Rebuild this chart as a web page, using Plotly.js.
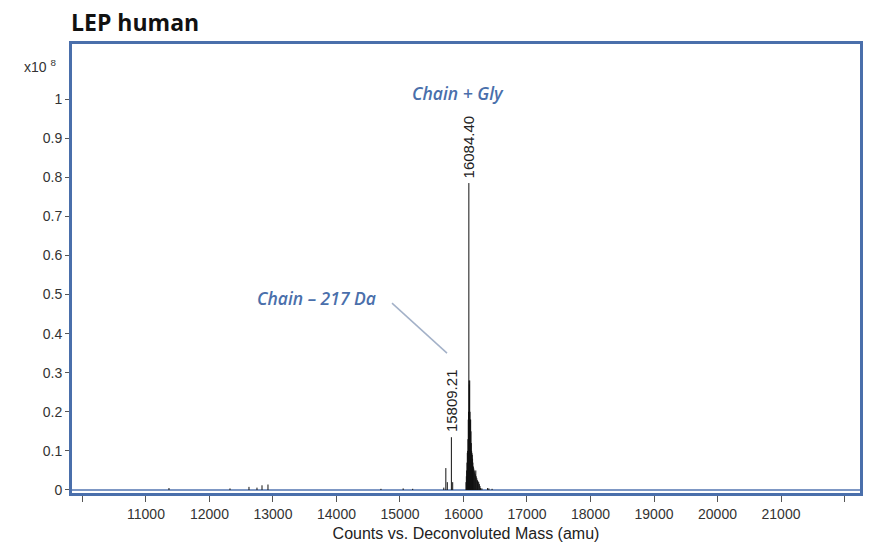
<!DOCTYPE html>
<html>
<head>
<meta charset="utf-8">
<script src="https://cdn.plot.ly/plotly-3.0.1.min.js"></script>
<style>
  html, body { margin: 0; padding: 0; background: #fff; }
  #chart { width: 877px; height: 550px; }
</style>
</head>
<body>
<div id="chart"></div>
<script>
// deconvoluted spectrum, intensity in units of 1e8 counts
const minorMass = [11362, 12323, 12622, 12748, 12827, 12921, 14700, 15050, 15200, 15690, 15722, 15745, 15809.21, 15830];
const minorInt = [0.005, 0.004, 0.008, 0.006, 0.012, 0.014, 0.003, 0.004, 0.003, 0.006, 0.056, 0.02, 0.135, 0.02];

const clusterMass = [16040, 16045, 16050, 16055, 16060, 16065, 16070, 16075, 16080, 16084.4, 16088, 16093,
  16098, 16103, 16108, 16113, 16118, 16123, 16128, 16133, 16138, 16143, 16148, 16155, 16162, 16170,
  16178, 16186, 16194, 16200, 16210, 16220, 16230, 16240, 16250, 16260, 16270, 16290, 16380, 16400, 16450];
const clusterInt = [0.02, 0.035, 0.05, 0.07, 0.095, 0.1, 0.13, 0.18, 0.2, 0.785, 0.28, 0.27,
  0.28, 0.2, 0.18, 0.18, 0.15, 0.12, 0.1, 0.095, 0.09, 0.08, 0.07, 0.06, 0.055, 0.05,
  0.045, 0.04, 0.05, 0.035, 0.03, 0.025, 0.022, 0.02, 0.015, 0.01, 0.005, 0.004, 0.005, 0.004, 0.003];

// labelled peaks
const peakMass = [16084.4, 15809.21];
const peakInt = [0.785, 0.135];
const peakText = ['16084.40', '15809.21'];

const xTicks = [10000, 11000, 12000, 13000, 14000, 15000, 16000, 17000, 18000, 19000, 20000, 21000, 22000];
const xTickText = ['', '11000', '12000', '13000', '14000', '15000', '16000', '17000', '18000', '19000', '20000', '21000', ''];
const yTicks = [0, 0.1, 0.2, 0.3, 0.4, 0.5, 0.6, 0.7, 0.8, 0.9, 1];
const yTickText = ['0', '0.1', '0.2', '0.3', '0.4', '0.5', '0.6', '0.7', '0.8', '0.9', '1'];

// turn (mass, height) pairs into separate vertical sticks from the baseline
function sticks(masses, heights) {
  const x = [];
  const y = [];
  masses.forEach((m, i) => {
    x.push(m, m, null);
    y.push(0, heights[i], null);
  });
  return { x, y };
}

const allMass = minorMass.concat(clusterMass);
const allInt = minorInt.concat(clusterInt);
const s = sticks(allMass, allInt);

const traces = [{
  type: 'scatter',
  mode: 'lines',
  x: s.x,
  y: s.y,
  connectgaps: false,
  line: { color: '#111', width: 1 },
  hoverinfo: 'skip',
}];

const blue = '#4a6fab';
const tickFont = { family: 'Liberation Sans, Arial, sans-serif', size: 14, color: '#333' };
const noteFont = { family: 'Open Sans, sans-serif', size: 17.5, color: blue, weight: 600, style: 'italic' };

const annotations = peakMass.map((m, i) => ({
  x: m,
  y: peakInt[i],
  xref: 'x',
  yref: 'y',
  text: peakText[i],
  textangle: -90,
  showarrow: false,
  yanchor: 'bottom',
  yshift: 3,
  font: { family: 'Liberation Sans, Arial, sans-serif', size: 15, color: '#222' },
}));

annotations.push(
  { x: 15913, y: 1.015, xref: 'x', yref: 'y', text: 'Chain + Gly', showarrow: false, font: noteFont },
  { x: 13693, y: 0.491, xref: 'x', yref: 'y', text: 'Chain – 217 Da', showarrow: false, font: noteFont },
  {
    x: 0, y: 1, xref: 'paper', yref: 'paper', text: 'x10 <sup>8</sup>', showarrow: false,
    xanchor: 'right', yanchor: 'bottom', xshift: -14, yshift: -33,
    font: { family: 'Liberation Sans, Arial, sans-serif', size: 14, color: '#333' },
  },
);

const layout = {
  width: 877,
  height: 550,
  paper_bgcolor: '#fff',
  plot_bgcolor: '#fff',
  margin: { l: 72, r: 17, t: 44, b: 57 },
  showlegend: false,
  title: {
    text: 'LEP human',
    x: 0.081,
    xanchor: 'left',
    y: 0.958,
    yanchor: 'middle',
    font: { family: 'Open Sans, sans-serif', size: 23, color: '#111', weight: 700 },
  },
  xaxis: {
    range: [9835, 22244],
    showgrid: false,
    zeroline: false,
    showline: true,
    mirror: true,
    linecolor: blue,
    linewidth: 3,
    ticks: 'outside',
    ticklen: 6,
    tickcolor: '#555',
    tickvals: xTicks,
    ticktext: xTickText,
    tickfont: tickFont,
    title: {
      text: 'Counts vs. Deconvoluted Mass (amu)',
      standoff: 8,
      font: { family: 'Liberation Sans, Arial, sans-serif', size: 16, color: '#222' },
    },
  },
  yaxis: {
    range: [-0.0077, 1.1407],
    showgrid: false,
    zeroline: true,
    zerolinecolor: '#7d97c4',
    zerolinewidth: 2,
    showline: true,
    mirror: true,
    linecolor: blue,
    linewidth: 3,
    ticks: 'outside',
    ticklen: 4,
    tickcolor: '#555',
    tickvals: yTicks,
    ticktext: yTickText,
    tickfont: tickFont,
  },
  shapes: [{
    type: 'line',
    xref: 'x',
    yref: 'y',
    x0: 14874,
    y0: 0.478,
    x1: 15740,
    y1: 0.35,
    line: { color: '#a3b1c8', width: 1.5 },
  }],
  annotations,
};

Plotly.newPlot('chart', traces, layout, { displayModeBar: false, staticPlot: true });
</script>
</body>
</html>
